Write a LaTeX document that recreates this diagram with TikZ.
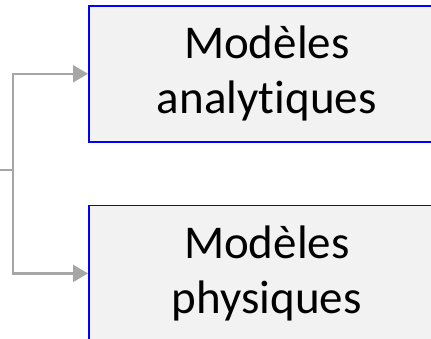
\documentclass[tikz,border=0pt]{standalone}
\usepackage{fontspec}
\setmainfont{Carlito}[Ligatures=NoCommon]
\usetikzlibrary{positioning, arrows.meta}
\definecolor{boxblue}{RGB}{0,0,255}
\definecolor{boxfill}{RGB}{242,242,242}
\definecolor{linkgray}{RGB}{166,166,166}
\tikzset{
  modelbox/.style={draw=boxblue, fill=boxfill, line width=1.6pt,
    minimum width=356pt, minimum height=136pt, inner sep=0pt,
    align=center, font=\fontsize{47}{55}\selectfont},
  link/.style={draw=linkgray, line width=2.4pt},
  linkarrow/.style={link, -{Triangle[length=15pt,width=17pt]}}
}

\begin{document}
\begin{tikzpicture}[x=1pt, y=-1pt]
  \useasboundingbox (0,0) rectangle (431,338);
  \clip (0,0) rectangle (431,338);
  % models
  \node [modelbox, anchor=north west] (analytique) at (88,5) {Modèles\\analytiques};
  \node [modelbox, below=62pt of analytique] (physique) {Modèles\\physiques};
  % links
  \coordinate (source) at (0,170);
  \coordinate (split) at (13,170);
  \draw [link] (source) -- (split);
  \draw [linkarrow] (split) |- (analytique.west);
  \draw [linkarrow] (split) |- (physique.west);
\end{tikzpicture}
\end{document}
